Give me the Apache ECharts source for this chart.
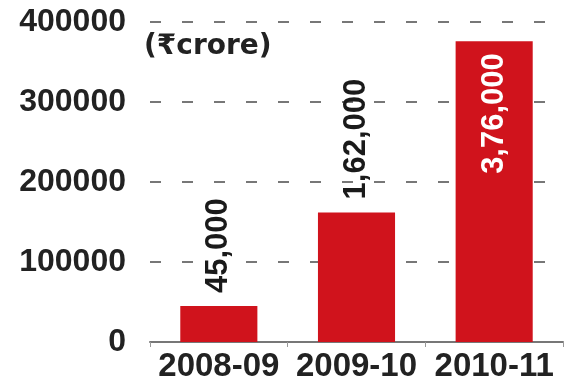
<!DOCTYPE html>
<html>
<head>
<meta charset="utf-8">
<script src="https://cdn.jsdelivr.net/npm/echarts@6/dist/echarts.min.js"></script>
<style>
  html, body { margin: 0; padding: 0; background: #fff; }
  #chart { width: 571px; height: 383px; }
</style>
</head>
<body>
<div id="chart"></div>
<script>
  // years and values, in rupee crore
  var years = ['2008-09', '2009-10', '2010-11'];
  var values = [45000, 162000, 376000];
  var valueLabels = ['45,000', '1,62,000', '3,76,000'];
  var unitText = '(₹crore)';

  var red = '#d0131c';
  var sans = '"Liberation Sans", sans-serif';

  var barData = values.map(function (v, i) {
    var inside = i === values.length - 1;
    return {
      value: v,
      label: inside ? {
        position: 'insideTop',
        align: 'right',
        distance: 12,
        color: '#fff'
      } : {
        position: 'top',
        align: 'left',
        distance: 13,
        color: '#1a1a1a'
      }
    };
  });

  var myChart = echarts.init(document.getElementById('chart'));
  myChart.setOption({
    animation: false,
    grid: {left: 150, right: 8, top: 22, bottom: 38},
    graphic: [{
      type: 'text',
      left: 144,
      top: 33,
      style: {
        text: unitText,
        fontSize: 28,
        fontWeight: 'bold',
        fontFamily: '"DejaVu Sans", "Noto Sans", sans-serif',
        fill: '#222'
      }
    }],
    xAxis: {
      type: 'category',
      data: years,
      axisLine: {lineStyle: {color: '#777', width: 2}},
      axisTick: {show: true, length: 5, lineStyle: {color: '#999'}},
      axisLabel: {
        interval: 0,
        margin: 8,
        fontSize: 33,
        fontWeight: 'bold',
        color: '#222',
        fontFamily: sans
      }
    },
    yAxis: {
      type: 'value',
      min: 0,
      max: 400000,
      interval: 100000,
      axisLine: {show: false},
      axisTick: {show: false},
      axisLabel: {
        margin: 24,
        fontSize: 32,
        fontWeight: 'bold',
        color: '#222',
        fontFamily: sans,
        formatter: function (v) { return String(v); }
      },
      splitLine: {
        lineStyle: {color: '#777', width: 2, type: [11, 21]}
      }
    },
    series: [{
      type: 'bar',
      data: barData,
      barWidth: '56%',
      itemStyle: {color: red},
      label: {
        show: true,
        rotate: 90,
        verticalAlign: 'middle',
        fontSize: 31,
        fontWeight: 'bold',
        fontFamily: sans,
        formatter: function (p) { return valueLabels[p.dataIndex]; }
      }
    }]
  });
</script>
</body>
</html>
